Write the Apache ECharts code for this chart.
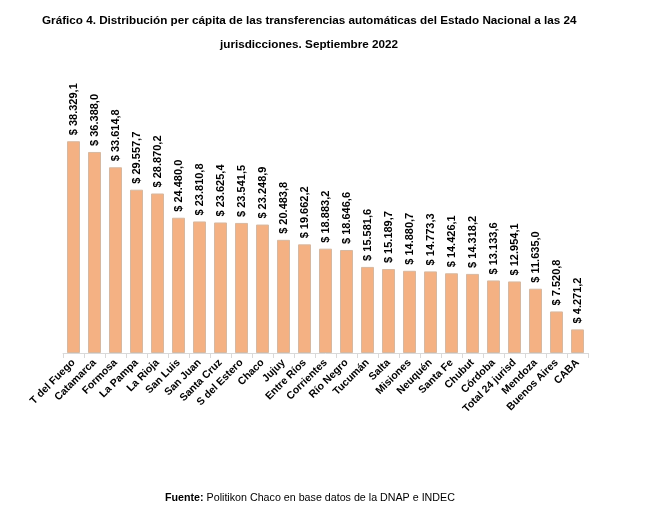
<!DOCTYPE html>
<html>
<head>
<meta charset="utf-8">
<script src="https://cdn.jsdelivr.net/npm/echarts@6/dist/echarts.min.js"></script>
<style>
html,body{margin:0;padding:0;background:#fff;}
#c{width:648px;height:519px;}
</style>
</head>
<body>
<div id="c"></div>
<script>
const categories = ['T del Fuego','Catamarca','Formosa','La Pampa','La Rioja','San Luis','San Juan','Santa Cruz','S del Estero','Chaco','Jujuy','Entre Ríos','Corrientes','Río Negro','Tucumán','Salta','Misiones','Neuquén','Santa Fe','Chubut','Córdoba','Total 24 jurisd','Mendoza','Buenos Aires','CABA'];
const values = [38329.1,36388.0,33614.8,29557.7,28870.2,24480.0,23810.8,23625.4,23541.5,23248.9,20483.8,19662.2,18883.2,18646.6,15581.6,15189.7,14880.7,14773.3,14426.1,14318.2,13133.6,12954.1,11635.0,7520.8,4271.2];

function fmt(v){
  const parts = v.toFixed(1).split('.');
  const int = parts[0].replace(/\B(?=(\d{3})+(?!\d))/g, '.');
  return '$ ' + int + ',' + parts[1];
}

const FF = 'Liberation Sans, Arial, sans-serif';
const chart = echarts.init(document.getElementById('c'));
chart.setOption({
  animation:false,
  backgroundColor:'#fff',
  textStyle:{fontFamily:FF},
  title:[{
    text:'Gráfico 4. Distribución per cápita de las transferencias automáticas del Estado Nacional a las 24',
    left:42, top:15, padding:0,
    textStyle:{fontSize:11.7,fontWeight:'bold',color:'#000',fontFamily:FF}
  },{
    text:'jurisdicciones. Septiembre 2022',
    left:220, top:39, padding:0,
    textStyle:{fontSize:11.7,fontWeight:'bold',color:'#000',fontFamily:FF}
  },{
    text:'{b|Fuente:} Politikon Chaco en base datos de la DNAP e INDEC',
    left:165, top:493, padding:0,
    textStyle:{fontSize:10.7,fontWeight:'normal',color:'#000',fontFamily:FF,
      rich:{b:{fontWeight:'bold',fontSize:10.7,color:'#000',fontFamily:FF}}}
  }],
  grid:{left:63,right:60,top:132,bottom:166,containLabel:false},
  xAxis:{
    type:'category',
    data:categories,
    axisLine:{lineStyle:{color:'#d9d9d9'}},
    axisTick:{show:true,length:5,lineStyle:{color:'#d9d9d9'}},
    axisLabel:{interval:0,rotate:45,fontSize:10.5,fontWeight:'bold',color:'#000',margin:8}
  },
  yAxis:{type:'value',min:0,max:40000,show:false,splitLine:{show:false}},
  series:[{
    type:'bar',
    data:values,
    barCategoryGap:'38%',
    itemStyle:{color:'#F4B183',borderColor:'#D6B8A0',borderWidth:1},
    label:{show:true,position:'top',rotate:90,align:'left',verticalAlign:'middle',distance:6,
      formatter:p=>fmt(p.value),fontSize:11,fontWeight:'bold',color:'#000'}
  }]
});
</script>
</body>
</html>
